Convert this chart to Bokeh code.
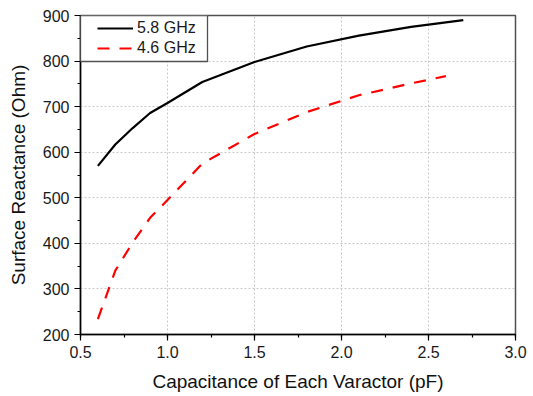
from bokeh.plotting import figure
from bokeh.models import (SingleIntervalTicker, Range1d, Legend, LegendItem,
                          PrintfTickFormatter, BoxAnnotation)
from bokeh.embed import file_html
from bokeh.resources import INLINE

# Data
cap_58 = [0.6, 0.7, 0.8, 0.9, 1.0, 1.2, 1.5, 1.8, 2.1, 2.4, 2.7]
react_58 = [570, 617, 653, 686, 708, 754, 798, 832, 856, 875, 890]
cap_46 = [0.6, 0.7, 0.8, 0.9, 1.0, 1.2, 1.5, 1.8, 2.1, 2.4, 2.6]
react_46 = [234, 340, 402, 456, 495, 575, 640, 688, 725, 751, 767]
label_58 = "5.8 GHz"
label_46 = "4.6 GHz"
x_title = "Capacitance of Each Varactor (pF)"
y_title = "Surface Reactance (Ohm)"

FONT = "Liberation Sans"

p = figure(width=533, height=396, output_backend="svg", toolbar_location=None,
           x_range=Range1d(0.5, 3.0), y_range=Range1d(200, 900),
           min_border_left=80, min_border_top=15, min_border_right=18, min_border_bottom=62)
p.background_fill_color = "white"
p.border_fill_color = "white"
p.outline_line_color = "#505050"
p.outline_line_width = 1.5

p.xaxis.ticker = SingleIntervalTicker(interval=0.5, num_minor_ticks=2)
p.yaxis.ticker = SingleIntervalTicker(interval=100, num_minor_ticks=2)
p.xaxis.formatter = PrintfTickFormatter(format="%.1f")

for ax in (p.xaxis[0], p.yaxis[0]):
    ax.axis_line_color = "black"
    ax.axis_line_width = 1.5
    ax.major_tick_line_color = "black"
    ax.minor_tick_line_color = "black"
    ax.major_tick_line_width = 1.2
    ax.minor_tick_line_width = 1.2
    ax.major_tick_out = 6
    ax.major_tick_in = 0
    ax.minor_tick_out = 3
    ax.minor_tick_in = 0
    ax.major_label_text_font = FONT
    ax.major_label_text_font_size = "16px"
    ax.major_label_text_color = "#1a1a1a"
    ax.axis_label_text_font = FONT
    ax.axis_label_text_font_size = "19px"
    ax.axis_label_text_font_style = "normal"
    ax.axis_label_text_color = "#111111"

p.xaxis.axis_label = x_title
p.yaxis.axis_label = y_title
p.xaxis.major_label_standoff = 5
p.yaxis.major_label_standoff = 5
p.xaxis.axis_label_standoff = 10
p.yaxis.axis_label_standoff = 11

for g in (p.xgrid[0], p.ygrid[0]):
    g.grid_line_color = "#c8c8c8"
    g.grid_line_dash = "2 2"
    g.grid_line_width = 1

r1 = p.line(cap_58, react_58, line_color="black", line_width=2.2)
r2 = p.line(cap_46, react_46, line_color="red", line_width=2.2, line_dash="12 10")

# legend frame box (top-left corner of the plot area)
box = BoxAnnotation(left=0.5, right=1.2299, top=900, bottom=799.1,
                    fill_color="white", fill_alpha=1.0,
                    line_color="#505050", line_alpha=1.0, line_width=1.3,
                    level="annotation")
p.add_layout(box)

legend = Legend(items=[LegendItem(label=label_58, renderers=[r1]),
                       LegendItem(label=label_46, renderers=[r2])],
                location=(17, 277), margin=0, padding=0, spacing=2,
                glyph_width=36, glyph_height=18, label_height=18,
                label_standoff=4,
                label_text_font=FONT, label_text_font_size="16px",
                label_text_color="#1a1a1a",
                border_line_alpha=0, background_fill_alpha=0)
p.add_layout(legend)

open("out.html", "w").write(file_html(p, INLINE))
